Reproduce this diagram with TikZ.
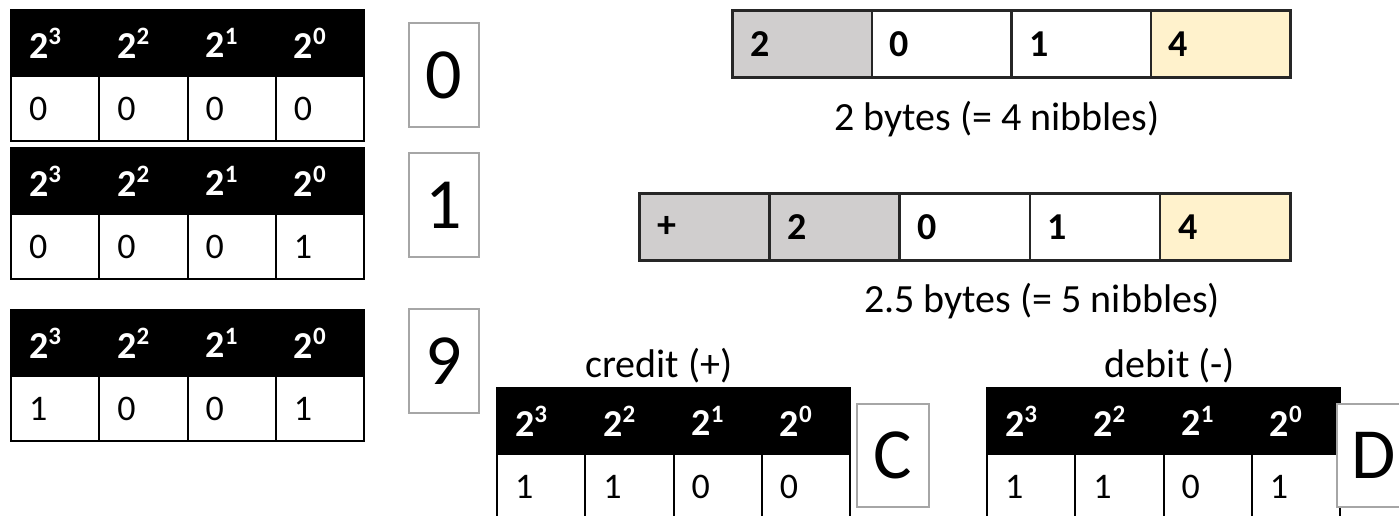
\documentclass[tikz,border=0pt]{standalone}
\usepackage{fontspec}
\setmainfont{Carlito}

\definecolor{boxgray}{HTML}{A6A6A6}
\definecolor{signgray}{HTML}{D0CECE}
\definecolor{lowbyte}{HTML}{FFF2CC}
\definecolor{barline}{HTML}{262626}

% power of two with a raised exponent
\newcommand\pw[1]{2\raisebox{0.36em}{\fontsize{25}{25}\selectfont #1}}

% a 4-bit table: name, left x, top y, four bits (MSB first)
\newcommand\bittable[7]{%
  \foreach \i/\e/\b in {0/3/#4,1/2/#5,2/1/#6,3/0/#7}{%
    \node[headcell] (#1h\i) at ({#2+\i*88.25},#3) {\pw{\e}};
    \node[bitcell]  (#1b\i) at ({#2+\i*88.25},{#3+66}) {\b};
  }}

\tikzset{
  cellbase/.style={anchor=north west, inner xsep=18pt, inner ysep=0pt,
    align=left, text width=52.25pt, minimum width=88.25pt},
  headcell/.style={cellbase, fill=black, draw=black, line width=2pt, text=white,
    font=\fontsize{38}{40}\selectfont\bfseries, minimum height=66pt},
  bitcell/.style={cellbase, fill=white, draw=black, line width=2pt,
    font=\fontsize{36}{40}\selectfont, minimum height=65pt},
  barcell/.style 2 args={anchor=north west, inner xsep=18pt, inner ysep=0pt,
    align=left, minimum width=#1, text width=#2, minimum height=67pt,
    draw=barline, line width=2.5pt, font=\fontsize{38}{40}\selectfont\bfseries},
  digitbox/.style={draw=boxgray, line width=2pt, fill=white, inner sep=0pt,
    minimum width=70pt, minimum height=104pt, font=\fontsize{72}{72}\selectfont},
  caption/.style={anchor=base, inner sep=0pt, font=\fontsize{40}{44}\selectfont},
}

\begin{document}
\begin{tikzpicture}[x=1pt,y=-1pt]
\useasboundingbox (0,0) rectangle (1399,515);
\clip (0,0) rectangle (1399,515);

% nibble tables on the left
\bittable{z}{10}{9}{0}{0}{0}{0}
\bittable{o}{10}{147}{0}{0}{0}{1}
\bittable{n}{10}{309}{1}{0}{0}{1}

% the digits they encode
\node[digitbox] (dz) at (444,75) {0};
\node[digitbox] (do) at (444,205) {1};
\node[digitbox] (dn) at (444,361) {9};

% unsigned value: 4 nibbles
\node[barcell={139.5pt}{103.5pt}, fill=signgray] (a1) at (731,9) {2};
\node[barcell={139.5pt}{103.5pt}, fill=white]    (a2) at (870.5,9) {0};
\node[barcell={139.5pt}{103.5pt}, fill=white]    (a3) at (1010,9) {1};
\node[barcell={139.5pt}{103.5pt}, fill=lowbyte]  (a4) at (1149.5,9) {4};
\node[caption] (ca) at (997,130) {2 bytes (= 4 nibbles)};

% signed value: sign nibble plus 4 nibbles
\node[barcell={130.2pt}{94.2pt}, fill=signgray] (b1) at (638,192) {+};
\node[barcell={130.2pt}{94.2pt}, fill=signgray] (b2) at (768.2,192) {2};
\node[barcell={130.2pt}{94.2pt}, fill=white]    (b3) at (898.4,192) {0};
\node[barcell={130.2pt}{94.2pt}, fill=white]    (b4) at (1028.6,192) {1};
\node[barcell={130.2pt}{94.2pt}, fill=lowbyte]  (b5) at (1158.8,192) {4};
\node[caption] (cb) at (1042,312) {2.5 bytes (= 5 nibbles)};

% sign nibbles
\node[caption] (lc) at (659,377) {credit (+)};
\bittable{c}{496}{387}{1}{1}{0}{0}
\node[digitbox, minimum width=72pt, minimum height=103pt] (dc) at (893,455.5) {C};

\node[caption] (ld) at (1170,377) {debit (-)};
\bittable{d}{986}{387}{1}{1}{0}{1}
\node[digitbox, minimum width=73pt, minimum height=103pt] (dd) at (1373.5,455.5) {D};
\end{tikzpicture}
\end{document}
